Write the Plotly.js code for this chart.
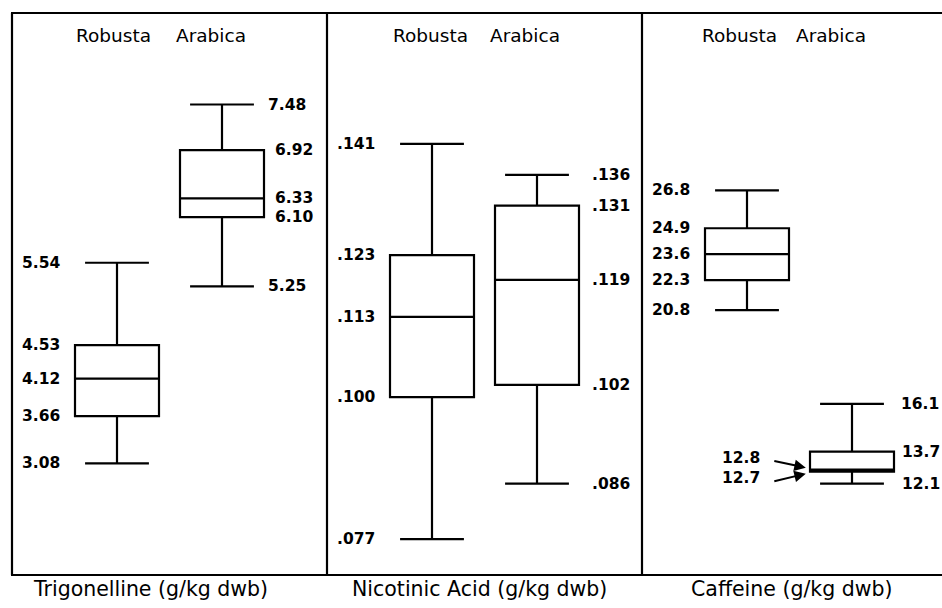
<!DOCTYPE html>
<html>
<head>
<meta charset="utf-8">
<script src="https://cdn.plot.ly/plotly-3.0.1.min.js"></script>
<style>html,body{margin:0;padding:0;background:#fff;}#chart{width:942px;height:608px;}</style>
</head>
<body>
<div id="chart"></div>
<script>
// ---- data ----
const panelTitles = ['Trigonelline (g/kg dwb)', 'Nicotinic Acid (g/kg dwb)', 'Caffeine (g/kg dwb)'];
const varieties = ['Robusta', 'Arabica'];

// [Robusta, Arabica]
const trigLow  = [3.08, 5.25];
const trigQ1   = [3.66, 6.10];
const trigMed  = [4.12, 6.33];
const trigQ3   = [4.53, 6.92];
const trigHigh = [5.54, 7.48];

const nicLow  = [0.077, 0.086];
const nicQ1   = [0.100, 0.102];
const nicMed  = [0.113, 0.119];
const nicQ3   = [0.123, 0.131];
const nicHigh = [0.141, 0.136];

const cafLow  = [20.8, 12.1];
const cafQ1   = [22.3, 12.7];
const cafMed  = [23.6, 12.8];
const cafQ3   = [24.9, 13.7];
const cafHigh = [26.8, 16.1];

// ---- build ----
const FONT = 'DejaVu Sans, Arial, sans-serif';
const W = 942, H = 608;
const px = v => v / W;
const stats = [
  {low: trigLow, q1: trigQ1, med: trigMed, q3: trigQ3, high: trigHigh, fmt: v => v.toFixed(2)},
  {low: nicLow, q1: nicQ1, med: nicMed, q3: nicQ3, high: nicHigh, fmt: v => v.toFixed(3).replace(/^0/, '')},
  {low: cafLow, q1: cafQ1, med: cafMed, q3: cafQ3, high: cafHigh, fmt: v => v.toFixed(1)}
];
const xs = ['x', 'x2', 'x3'];
const ys = ['y', 'y2', 'y3'];

const traces = stats.map((s, i) => ({
  type: 'box',
  x: [1, 2],
  q1: s.q1, median: s.med, q3: s.q3, lowerfence: s.low, upperfence: s.high,
  xaxis: xs[i], yaxis: ys[i],
  width: 0.8,
  whiskerwidth: 0.76,
  boxpoints: false,
  fillcolor: 'rgba(255,255,255,0)',
  line: {color: '#000', width: 2.2},
  hoverinfo: 'skip',
  showlegend: false
}));

const ydom = [(H - 575) / H, (H - 13) / H];
const ax = (dom, range) => ({domain: dom, range: range, visible: false, showgrid: false, zeroline: false, fixedrange: true});

const layout = {
  width: W, height: H,
  margin: {l: 0, r: 0, t: 0, b: 0},
  paper_bgcolor: '#fff', plot_bgcolor: 'rgba(0,0,0,0)',
  showlegend: false,
  xaxis:  ax([px(12), px(327)], [0, 3]),
  xaxis2: ax([px(327), px(642)], [0, 3]),
  xaxis3: ax([px(642), 1], [0, 300 / 105]),
  yaxis:  Object.assign(ax(ydom, [1.712, 8.602]), {anchor: 'x'}),
  yaxis2: Object.assign(ax(ydom, [0.0712, 0.1622]), {anchor: 'x2'}),
  yaxis3: Object.assign(ax(ydom, [7.52, 35.69]), {anchor: 'x3'}),
  shapes: [],
  annotations: []
};
layout.xaxis.anchor = 'y'; layout.xaxis2.anchor = 'y2'; layout.xaxis3.anchor = 'y3';

// frame
const lineStyle = {color: '#000', width: 2.2};
layout.shapes.push({type: 'line', xref: 'paper', yref: 'paper', x0: px(11), x1: 1, y0: ydom[1], y1: ydom[1], line: lineStyle});
layout.shapes.push({type: 'line', xref: 'paper', yref: 'paper', x0: px(11), x1: 1, y0: ydom[0], y1: ydom[0], line: lineStyle});
[12, 327, 642].forEach(p => layout.shapes.push({type: 'line', xref: 'paper', yref: 'paper', x0: px(p), x1: px(p), y0: ydom[0], y1: ydom[1], line: lineStyle}));

const valFont = {family: FONT, size: 15.5, color: '#000', weight: 'bold'};
const topFont = {family: FONT, size: 18.5, color: '#000'};
const titleFont = {family: FONT, size: 20.5, color: '#000'};

// top variety labels
const topPos = [[0.965, 1.893], [0.981, 1.889], [0.924, 1.80]];
topPos.forEach((pp, i) => varieties.forEach((v, j) => layout.annotations.push({
  xref: xs[i], yref: 'paper', x: pp[j], y: (H - 35.5) / H, text: v, showarrow: false,
  xanchor: 'center', yanchor: 'middle', font: topFont
})));

// bottom titles
const titleX = [150, 479, 791.7];
panelTitles.forEach((t, i) => layout.annotations.push({
  xref: 'paper', yref: 'paper', x: px(titleX[i]), y: (H - 589) / H, text: t, showarrow: false,
  xanchor: 'center', yanchor: 'middle', font: titleFont
}));

// value labels
const leftX = [0.478, 0.478, 0.478];
const rightWhiskX = [2.42, 2.50, 2.45];
const rightBoxX = [2.49, 2.50, 2.46];
stats.forEach((s, i) => {
  // Robusta (index 0) on the left
  [s.high[0], s.q3[0], s.med[0], s.q1[0], s.low[0]].forEach(v => layout.annotations.push({
    xref: xs[i], yref: ys[i], x: leftX[i], y: v, text: s.fmt(v), showarrow: false,
    xanchor: 'right', yanchor: 'middle', font: valFont
  }));
  // Arabica (index 1) on the right
  const right = (i === 2) ? [[s.high[1], 'w'], [s.q3[1], 'b'], [s.low[1], 'b']]
                          : [[s.high[1], 'w'], [s.q3[1], 'b'], [s.med[1], 'b'], [s.q1[1], 'b'], [s.low[1], 'w']];
  right.forEach(([v, k]) => layout.annotations.push({
    xref: xs[i], yref: ys[i], x: k === 'w' ? rightWhiskX[i] : rightBoxX[i], y: v, text: s.fmt(v), showarrow: false,
    xanchor: 'left', yanchor: 'middle', font: valFont
  }));
});

// caffeine Arabica median & q1 with arrows
const cafArrow = [[cafMed[1], -7, 12, 2], [cafQ1[1], 8, -6, -2]];
cafArrow.forEach(([v, ay, ysh, ash]) => {
  layout.annotations.push({
    xref: 'x3', yref: 'y3', x: 1.14, y: v, yshift: ysh, text: stats[2].fmt(v), showarrow: false,
    xanchor: 'right', yanchor: 'middle', font: valFont
  });
  layout.annotations.push({
    xref: 'x3', yref: 'y3', x: 1.56, y: v, yshift: ash, text: '', showarrow: true,
    ax: -33, ay: ay, arrowhead: 2, arrowsize: 1.15, arrowwidth: 2, arrowcolor: '#000'
  });
});

Plotly.newPlot('chart', traces, layout, {displayModeBar: false, staticPlot: true});
</script>
</body>
</html>
